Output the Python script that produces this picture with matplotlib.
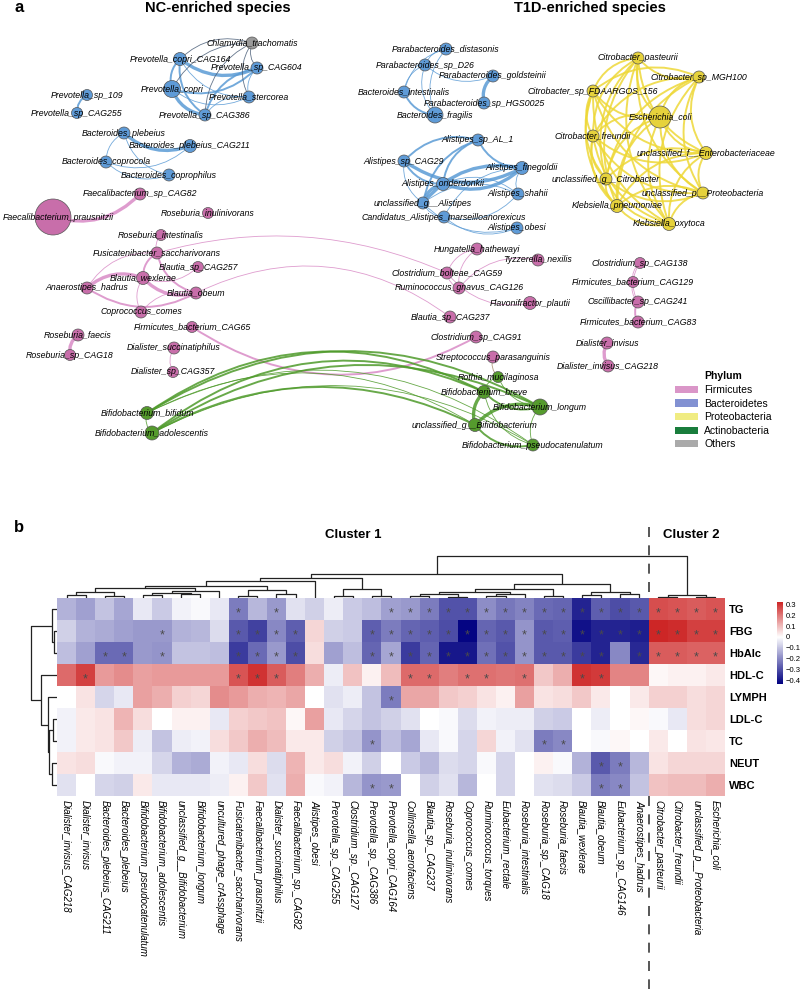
import itertools
import numpy as np
import matplotlib
matplotlib.use('Agg')
import matplotlib.pyplot as plt
import matplotlib.transforms as mtransforms
from matplotlib.path import Path
from matplotlib.patches import PathPatch, Patch
from matplotlib.colors import LinearSegmentedColormap, Normalize
from matplotlib.cm import ScalarMappable

plt.rcParams['font.family'] = ['Liberation Sans', 'DejaVu Sans']

# ---------------- panel a: network data ----------------
node_names = [
    'Chlamydia_trachomatis', 'Prevotella_copri_CAG164', 'Prevotella_sp_CAG604', 'Prevotella_copri',
    'Prevotella_stercorea', 'Prevotella_sp_CAG386', 'Prevotella_sp_109', 'Prevotella_sp_CAG255',
    'Bacteroides_plebeius', 'Bacteroides_plebeius_CAG211', 'Bacteroides_coprocola', 'Bacteroides_coprophilus',
    'Faecalibacterium_sp_CAG82', 'Faecalibacterium_prausnitzii', 'Roseburia_inulinivorans',
    'Roseburia_intestinalis', 'Fusicatenibacter_saccharivorans', 'Blautia_sp_CAG257', 'Blautia_wexlerae',
    'Anaerostipes_hadrus', 'Blautia_obeum', 'Coprococcus_comes', 'Firmicutes_bacterium_CAG65',
    'Roseburia_faecis', 'Roseburia_sp_CAG18', 'Dialister_succinatiphilus', 'Dialister_sp_CAG357',
    'Bifidobacterium_bifidum', 'Bifidobacterium_adolescentis',
    'Parabacteroides_distasonis', 'Parabacteroides_sp_D26', 'Parabacteroides_goldsteinii',
    'Bacteroides_intestinalis', 'Parabacteroides_sp_HGS0025', 'Bacteroides_fragilis',
    'Alistipes_sp_AL_1', 'Alistipes_sp_CAG29', 'Alistipes_finegoldii', 'Alistipes_onderdonkii',
    'Alistipes_shahii', 'unclassified_g__Alistipes', 'Candidatus_Alistipes_marseilloanorexicus',
    'Alistipes_obesi', 'Hungatella_hathewayi', 'Tyzzerella_nexilis', 'Clostridium_bolteae_CAG59',
    'Ruminococcus_gnavus_CAG126', 'Flavonifractor_plautii', 'Blautia_sp_CAG237', 'Clostridium_sp_CAG91',
    'Streptococcus_parasanguinis', 'Rothia_mucilaginosa', 'Bifidobacterium_breve', 'Bifidobacterium_longum',
    'unclassified_g__Bifidobacterium', 'Bifidobacterium_pseudocatenulatum',
    'Clostridium_sp_CAG138', 'Firmicutes_bacterium_CAG129', 'Oscillibacter_sp_CAG241',
    'Firmicutes_bacterium_CAG83', 'Dialister_invisus', 'Dialister_invisus_CAG218',
    'Citrobacter_pasteurii', 'Citrobacter_sp_MGH100', 'Citrobacter_sp_FDAARGOS_156', 'Escherichia_coli',
    'Citrobacter_freundii', 'unclassified_f__Enterobacteriaceae', 'unclassified_g__Citrobacter',
    'unclassified_p__Proteobacteria', 'Klebsiella_pneumoniae', 'Klebsiella_oxytoca',
]
node_x = [252, 180, 257, 172, 249, 205, 87, 77, 124, 190, 106, 169, 140, 53, 208, 161, 157, 198, 143, 87,
          196, 141, 192, 78, 70, 174, 173, 147, 152,
          446, 425, 493, 404, 484, 435, 478, 404, 522, 443, 518, 423, 444, 517, 477, 538, 447, 459, 530,
          450, 476, 493, 498, 484, 540, 475, 533, 640, 633, 638, 638, 607, 608,
          638, 699, 593, 660, 593, 706, 606, 703, 617, 669]
node_y = [43, 59, 68, 89, 97, 115, 95, 113, 133, 146, 162, 175, 194, 217, 213, 235, 253, 267, 278, 288,
          293, 312, 327, 335, 355, 348, 372, 413, 433,
          49, 65, 76, 92, 103, 115, 140, 161, 168, 184, 194, 203, 217, 228, 249, 260, 273, 288, 303,
          317, 337, 357, 377, 392, 407, 425, 445, 263, 282, 302, 322, 343, 366,
          58, 77, 91, 117, 136, 153, 179, 193, 206, 224]
node_phylum = (['O'] + ['B'] * 11 + ['F'] * 15 + ['A'] * 2 + ['B'] * 14 + ['F'] * 8 + ['A'] * 5
               + ['F'] * 6 + ['P'] * 10)
node_abund = [6, 6.5, 6, 8.5, 6, 6, 5.5, 5.5, 6, 6.5, 6, 6, 6, 18, 5.5, 5.5, 6, 5.5, 6.5, 6,
              6, 6, 5.5, 6, 5.5, 6, 5.5, 6.5, 7,
              6, 6, 6, 6, 6, 8, 6, 6, 6.5, 6.5, 6, 6, 6, 6, 6, 6, 6, 6, 6.5,
              6, 6, 6, 5.5, 6.5, 8, 6.5, 6, 5.5, 5.5, 6, 6, 6, 6,
              6, 6, 6, 11, 6, 6.5, 6, 6, 6.5, 6.5]

edges = [
    ('Prevotella_copri_CAG164', 'Prevotella_sp_CAG604', 3), ('Prevotella_copri_CAG164', 'Prevotella_copri', 2),
    ('Prevotella_copri', 'Prevotella_sp_CAG386', 3), ('Prevotella_copri', 'Prevotella_sp_CAG604', 2),
    ('Prevotella_copri', 'Prevotella_stercorea', 1), ('Prevotella_copri_CAG164', 'Prevotella_sp_CAG386', 2),
    ('Prevotella_sp_CAG604', 'Prevotella_sp_CAG386', 2), ('Prevotella_stercorea', 'Prevotella_sp_CAG386', 1),
    ('Prevotella_copri_CAG164', 'Prevotella_stercorea', 1), ('Prevotella_sp_CAG604', 'Prevotella_stercorea', 1),
    ('Chlamydia_trachomatis', 'Prevotella_copri_CAG164', 1), ('Chlamydia_trachomatis', 'Prevotella_sp_CAG604', 1),
    ('Chlamydia_trachomatis', 'Prevotella_copri', 1), ('Chlamydia_trachomatis', 'Prevotella_stercorea', 1),
    ('Chlamydia_trachomatis', 'Prevotella_sp_CAG386', 1),
    ('Prevotella_sp_109', 'Prevotella_sp_CAG255', 2),
    ('Bacteroides_plebeius', 'Bacteroides_plebeius_CAG211', 3), ('Bacteroides_plebeius', 'Bacteroides_coprocola', 1),
    ('Bacteroides_plebeius', 'Bacteroides_coprophilus', 1), ('Bacteroides_coprocola', 'Bacteroides_coprophilus', 1),
    ('Bacteroides_coprocola', 'Bacteroides_plebeius_CAG211', 1),
    ('Faecalibacterium_prausnitzii', 'Faecalibacterium_sp_CAG82', 3),
    ('Roseburia_intestinalis', 'Fusicatenibacter_saccharivorans', 1),
    ('Fusicatenibacter_saccharivorans', 'Blautia_wexlerae', 2), ('Fusicatenibacter_saccharivorans', 'Blautia_obeum', 2),
    ('Fusicatenibacter_saccharivorans', 'Anaerostipes_hadrus', 1), ('Blautia_wexlerae', 'Anaerostipes_hadrus', 3),
    ('Blautia_wexlerae', 'Blautia_obeum', 3), ('Anaerostipes_hadrus', 'Blautia_obeum', 2),
    ('Blautia_wexlerae', 'Blautia_sp_CAG257', 1), ('Blautia_wexlerae', 'Coprococcus_comes', 1),
    ('Blautia_obeum', 'Coprococcus_comes', 1),
    ('Fusicatenibacter_saccharivorans', 'Clostridium_bolteae_CAG59', 1), ('Blautia_obeum', 'Blautia_sp_CAG237', 1),
    ('Firmicutes_bacterium_CAG65', 'Clostridium_sp_CAG91', 2),
    ('Roseburia_faecis', 'Roseburia_sp_CAG18', 3), ('Dialister_succinatiphilus', 'Dialister_sp_CAG357', 1),
    ('Hungatella_hathewayi', 'Clostridium_bolteae_CAG59', 1), ('Clostridium_bolteae_CAG59', 'Ruminococcus_gnavus_CAG126', 1),
    ('Hungatella_hathewayi', 'Ruminococcus_gnavus_CAG126', 1), ('Tyzzerella_nexilis', 'Ruminococcus_gnavus_CAG126', 1),
    ('Clostridium_bolteae_CAG59', 'Flavonifractor_plautii', 1),
    ('Clostridium_sp_CAG138', 'Firmicutes_bacterium_CAG129', 1), ('Firmicutes_bacterium_CAG129', 'Oscillibacter_sp_CAG241', 1),
    ('Clostridium_sp_CAG138', 'Oscillibacter_sp_CAG241', 1), ('Oscillibacter_sp_CAG241', 'Firmicutes_bacterium_CAG83', 2),
    ('Dialister_invisus', 'Dialister_invisus_CAG218', 3),
    ('Streptococcus_parasanguinis', 'Rothia_mucilaginosa', 1),
    ('Bifidobacterium_bifidum', 'Bifidobacterium_adolescentis', 1),
    ('Bifidobacterium_bifidum', 'Bifidobacterium_breve', 2), ('Bifidobacterium_bifidum', 'Bifidobacterium_longum', 2),
    ('Bifidobacterium_bifidum', 'unclassified_g__Bifidobacterium', 1),
    ('Bifidobacterium_bifidum', 'Bifidobacterium_pseudocatenulatum', 1),
    ('Bifidobacterium_adolescentis', 'Bifidobacterium_breve', 2), ('Bifidobacterium_adolescentis', 'Bifidobacterium_longum', 2),
    ('Bifidobacterium_adolescentis', 'unclassified_g__Bifidobacterium', 2),
    ('Bifidobacterium_adolescentis', 'Bifidobacterium_pseudocatenulatum', 1),
    ('Bifidobacterium_breve', 'unclassified_g__Bifidobacterium', 3), ('Bifidobacterium_breve', 'Bifidobacterium_longum', 2),
    ('Bifidobacterium_breve', 'Bifidobacterium_pseudocatenulatum', 1),
    ('Bifidobacterium_longum', 'unclassified_g__Bifidobacterium', 3),
    ('Bifidobacterium_longum', 'Bifidobacterium_pseudocatenulatum', 1),
    ('unclassified_g__Bifidobacterium', 'Bifidobacterium_pseudocatenulatum', 2),
    ('Rothia_mucilaginosa', 'Bifidobacterium_longum', 1), ('Rothia_mucilaginosa', 'Bifidobacterium_breve', 1),
    ('Parabacteroides_distasonis', 'Parabacteroides_sp_D26', 1), ('Parabacteroides_distasonis', 'Bacteroides_intestinalis', 1),
    ('Parabacteroides_distasonis', 'Bacteroides_fragilis', 1), ('Parabacteroides_sp_D26', 'Bacteroides_intestinalis', 1),
    ('Parabacteroides_sp_D26', 'Bacteroides_fragilis', 1), ('Bacteroides_intestinalis', 'Bacteroides_fragilis', 2),
    ('Parabacteroides_goldsteinii', 'Parabacteroides_sp_HGS0025', 3), ('Parabacteroides_sp_D26', 'Parabacteroides_goldsteinii', 1),
    ('Alistipes_sp_AL_1', 'Alistipes_sp_CAG29', 2), ('Alistipes_sp_AL_1', 'Alistipes_finegoldii', 2),
    ('Alistipes_sp_AL_1', 'Alistipes_onderdonkii', 2), ('Alistipes_sp_AL_1', 'unclassified_g__Alistipes', 2),
    ('Alistipes_sp_CAG29', 'Alistipes_finegoldii', 3), ('Alistipes_sp_CAG29', 'Alistipes_onderdonkii', 2),
    ('Alistipes_sp_CAG29', 'unclassified_g__Alistipes', 1), ('Alistipes_onderdonkii', 'Alistipes_finegoldii', 3),
    ('Alistipes_onderdonkii', 'unclassified_g__Alistipes', 3), ('Alistipes_finegoldii', 'unclassified_g__Alistipes', 3),
    ('Alistipes_finegoldii', 'Alistipes_shahii', 1), ('Alistipes_shahii', 'unclassified_g__Alistipes', 1),
    ('Alistipes_shahii', 'Alistipes_onderdonkii', 1),
    ('unclassified_g__Alistipes', 'Candidatus_Alistipes_marseilloanorexicus', 1),
    ('Candidatus_Alistipes_marseilloanorexicus', 'Alistipes_obesi', 1),
    ('Candidatus_Alistipes_marseilloanorexicus', 'Alistipes_shahii', 1),
    ('Alistipes_finegoldii', 'Candidatus_Alistipes_marseilloanorexicus', 1), ('unclassified_g__Alistipes', 'Alistipes_obesi', 1),
]
proteo = [n for n, p in zip(node_names, node_phylum) if p == 'P']
edges += [(a, b, 2) for a, b in itertools.combinations(proteo, 2)]

edge_bend = {
    ('Fusicatenibacter_saccharivorans', 'Clostridium_bolteae_CAG59'): -0.18,
    ('Blautia_obeum', 'Blautia_sp_CAG237'): -0.3,
    ('Firmicutes_bacterium_CAG65', 'Clostridium_sp_CAG91'): 0.3,
    ('Bifidobacterium_bifidum', 'Bifidobacterium_breve'): -0.3,
    ('Bifidobacterium_bifidum', 'Bifidobacterium_longum'): -0.3,
    ('Bifidobacterium_bifidum', 'unclassified_g__Bifidobacterium'): -0.28,
    ('Bifidobacterium_bifidum', 'Bifidobacterium_pseudocatenulatum'): -0.3,
    ('Bifidobacterium_adolescentis', 'Bifidobacterium_breve'): -0.3,
    ('Bifidobacterium_adolescentis', 'Bifidobacterium_longum'): -0.28,
    ('Bifidobacterium_adolescentis', 'unclassified_g__Bifidobacterium'): -0.26,
    ('Bifidobacterium_adolescentis', 'Bifidobacterium_pseudocatenulatum'): -0.28,
}
# labels that would run off the left edge are nudged right
label_shift = {'Faecalibacterium_prausnitzii': 5}

phylum_node_col = {'F': '#C86EAA', 'B': '#5F9BD7', 'P': '#E6D23C', 'A': '#559B2D', 'O': '#9A9A9A'}
phylum_edge_col = {'F': '#D98BC6', 'B': '#5B9BD5', 'P': '#EED838', 'A': '#4E9A2A', 'O': '#4A5E78'}
edge_lw = {1: 0.6, 2: 1.4, 3: 2.4}

legend_names = ['Firmicutes', 'Bacteroidetes', 'Proteobacteria', 'Actinobacteria', 'Others']
legend_cols = ['#DA96C8', '#8291D2', '#F0EC82', '#197D3C', '#AAAAAA']

# ---------------- panel b: correlation heatmap data ----------------
col_labels = [
    'Dialister_invisus_CAG218', 'Dialister_invisus', 'Bacteroides_plebeius_CAG211', 'Bacteroides_plebeius',
    'Bifidobacterium_pseudocatenulatum', 'Bifidobacterium_adolescentis', 'unclassified_g__Bifidobacterium',
    'Bifidobacterium_longum', 'uncultured_phage_crAssphage', 'Fusicatenibacter_saccharivorans',
    'Faecalibacterium_prausnitzii', 'Dialister_succinatiphilus', 'Faecalibacterium_sp._CAG82', 'Alistipes_obesi',
    'Prevotella_sp._CAG255', 'Clostridium_sp._CAG127', 'Prevotella_sp._CAG386', 'Prevotella_copri_CAG164',
    'Collinsella_aerofaciens', 'Blautia_sp._CAG237', 'Roseburia_inulinivorans', 'Coprococcus_comes',
    'Ruminococcus_torques', 'Eubacterium_rectale', 'Roseburia_intestinalis', 'Roseburia_sp._CAG18',
    'Roseburia_faecis', 'Blautia_wexlerae', 'Blautia_obeum', 'Eubacterium_sp._CAG146', 'Anaerostipes_hadrus',
    'Citrobacter_pasteurii', 'Citrobacter_freundii', 'unclassified_p__Proteobacteria', 'Escherichia_coli',
]
row_labels = ['TG', 'FBG', 'HbAlc', 'HDL-C', 'LYMPH', 'LDL-C', 'TC', 'NEUT', 'WBC']

r_TG = [-0.13, -0.16, -0.10, -0.15, -0.04, -0.09, -0.02, -0.01, -0.04, -0.22, -0.12, -0.17, -0.05, -0.08, -0.03, -0.09,
        -0.11, -0.16, -0.17, -0.22, -0.29, -0.29, -0.19, -0.23, -0.21, -0.25, -0.26, -0.37, -0.27, -0.30, -0.28,
        0.26, 0.25, 0.24, 0.25]
r_FBG = [-0.08, -0.13, -0.14, -0.16, -0.17, -0.17, -0.13, -0.12, -0.06, -0.28, -0.32, -0.20, -0.27, 0.06, -0.08, -0.09,
         -0.27, -0.22, -0.26, -0.27, -0.30, -0.42, -0.26, -0.28, -0.18, -0.28, -0.27, -0.40, -0.37, -0.37, -0.38,
         0.32, 0.31, 0.28, 0.28]
r_HbA = [-0.11, -0.16, -0.25, -0.25, -0.17, -0.18, -0.10, -0.10, -0.11, -0.33, -0.25, -0.17, -0.30, 0.05, -0.16, -0.11,
         -0.26, -0.15, -0.33, -0.26, -0.39, -0.39, -0.24, -0.29, -0.18, -0.28, -0.28, -0.33, -0.37, -0.20, -0.36,
         0.24, 0.24, 0.23, 0.23]
r_HDL = [0.22, 0.28, 0.15, 0.17, 0.14, 0.15, 0.15, 0.15, 0.15, 0.25, 0.30, 0.24, 0.19, 0.12, -0.03, 0.09,
         0.02, 0.10, 0.22, 0.22, 0.19, 0.21, 0.21, 0.20, 0.21, 0.08, 0.12, 0.30, 0.29, 0.18, 0.18,
         0.01, 0.02, 0.02, 0.03]
r_LYM = [0.00, 0.04, -0.07, -0.04, 0.14, 0.12, 0.07, 0.06, 0.17, 0.15, 0.12, 0.11, 0.13, 0.00, -0.05, -0.03,
         -0.10, -0.22, 0.13, 0.13, 0.08, 0.07, 0.04, 0.02, 0.14, 0.04, 0.05, 0.08, 0.03, 0.00, 0.03,
         0.07, 0.07, 0.05, 0.06]
r_LDL = [-0.02, 0.03, 0.04, 0.11, 0.05, 0.00, 0.02, 0.02, -0.04, 0.07, 0.08, 0.09, 0.01, 0.14, -0.04, -0.07,
         -0.10, -0.08, -0.05, 0.00, -0.01, -0.06, -0.02, -0.03, -0.03, -0.08, -0.09, 0.00, -0.03, 0.00, 0.01,
         -0.01, -0.04, 0.05, 0.06]
r_TC = [-0.02, 0.03, 0.04, 0.08, -0.03, -0.10, -0.03, -0.02, 0.05, 0.08, 0.12, 0.10, 0.03, 0.03, -0.08, -0.10,
        -0.18, -0.11, -0.15, -0.04, -0.01, -0.07, 0.06, -0.02, -0.05, -0.22, -0.20, 0.00, -0.01, 0.01, 0.00,
        0.03, 0.00, 0.04, 0.035]
r_NEU = [0.04, 0.05, -0.01, -0.02, -0.02, -0.07, -0.13, -0.14, -0.02, -0.04, 0.05, -0.06, 0.11, 0.03, 0.05, -0.02,
         -0.08, 0.00, -0.09, -0.12, -0.06, -0.07, -0.01, -0.07, 0.00, 0.02, -0.01, -0.13, -0.28, -0.22, -0.12,
         0.04, 0.06, 0.06, 0.06]
r_WBC = [-0.05, 0.00, -0.07, -0.08, 0.03, -0.04, -0.04, -0.04, -0.03, 0.02, 0.08, -0.05, 0.12, -0.01, -0.02, -0.12,
         -0.18, -0.17, 0.00, -0.08, -0.05, -0.12, 0.00, -0.07, 0.00, -0.05, -0.06, -0.09, -0.22, -0.20, -0.10,
         0.09, 0.10, 0.10, 0.12]

# significant cells (column index per row, 0-based)
sig_cols = [
    [9, 11, 17, 18, 19, 20, 21, 22, 23, 24, 25, 26, 27, 28, 29, 30, 31, 32, 33, 34],
    [5, 9, 10, 11, 12, 16, 17, 18, 19, 20, 21, 22, 23, 24, 25, 26, 27, 28, 29, 30, 31, 32, 33, 34],
    [2, 3, 5, 9, 10, 11, 12, 16, 17, 18, 19, 20, 21, 22, 23, 24, 25, 26, 27, 28, 30, 31, 32, 33, 34],
    [1, 9, 10, 11, 18, 19, 21, 22, 24, 27, 28],
    [17],
    [],
    [16, 25, 26],
    [28, 29],
    [16, 17, 28, 29],
]

# dendrograms: (left id, right id, merge height); ids >= n are earlier merges
col_merges = [
    (0, 1, 3), (2, 3, 2), (35, 36, 6), (4, 5, 3), (6, 7, 4), (38, 39, 5), (40, 8, 7), (37, 41, 10),
    (9, 10, 2), (11, 12, 4), (43, 44, 8), (42, 45, 12), (46, 13, 17), (14, 15, 2), (16, 17, 2),
    (48, 49, 9), (47, 50, 20), (18, 19, 2), (20, 21, 1.5), (52, 53, 4), (22, 23, 2), (55, 24, 4),
    (54, 56, 6), (25, 26, 2), (57, 58, 9), (27, 28, 3), (29, 30, 4), (60, 61, 6), (59, 62, 14),
    (51, 63, 24), (31, 32, 1), (33, 34, 1.5), (65, 66, 3), (64, 67, 42),
]
row_merges = [(1, 2, 3), (0, 9, 5), (5, 6, 4), (7, 8, 5), (11, 12, 8), (4, 13, 9), (3, 14, 16), (10, 15, 26)]

W, H = 800, 989
fig = plt.figure(figsize=(W / 100, H / 100), dpi=100)


def frac(x0, y0, x1, y1):
    return [x0 / W, 1 - y1 / H, (x1 - x0) / W, (y1 - y0) / H]


# ---------------- draw network ----------------
ax = fig.add_axes(frac(0, 0, 800, 495))
ax.set_xlim(0, 800)
ax.set_ylim(495, 0)
ax.axis('off')
ax.patch.set_alpha(0)

idx = {n: i for i, n in enumerate(node_names)}
for a, b, w in edges:
    pa, pb = node_phylum[idx[a]], node_phylum[idx[b]]
    if 'O' in (pa, pb):
        col = phylum_edge_col['O']
    elif pa != pb:
        col = '#A58A6A'
    else:
        col = phylum_edge_col[pa]
    p0 = np.array([node_x[idx[a]], node_y[idx[a]]], float)
    p2 = np.array([node_x[idx[b]], node_y[idx[b]]], float)
    d = p2 - p0
    c = edge_bend.get((a, b), 0.3)
    p1 = (p0 + p2) / 2 + c * np.array([-d[1], d[0]])
    path = Path([p0, p1, p2], [Path.MOVETO, Path.CURVE3, Path.CURVE3])
    ax.add_patch(PathPatch(path, fc='none', ec=col, lw=edge_lw[w], alpha=0.85, zorder=1))

sizes = [(1.44 * r) ** 2 for r in node_abund]
ax.scatter(node_x, node_y, s=sizes, c=[phylum_node_col[p] for p in node_phylum],
           edgecolors='#555555', linewidths=0.5, zorder=2)
for n, x, y in zip(node_names, node_x, node_y):
    ax.text(x + label_shift.get(n, 0), y, n, style='italic', fontsize=6.3,
            ha='center', va='center', zorder=3)

handles = [Patch(facecolor=c, edgecolor='none') for c in legend_cols]
leg = ax.legend(handles, legend_names, title='Phylum', loc='upper left',
                bbox_to_anchor=(670, 366), bbox_transform=ax.transData, frameon=False,
                fontsize=7.5, title_fontsize=7.5, handlelength=2.2, handleheight=0.7,
                labelspacing=0.35, handletextpad=0.6, borderpad=0)
leg.get_title().set_fontweight('bold')

fig.text(14 / W, 1 - 8 / H, 'a', fontsize=12, fontweight='bold', va='center')
fig.text(218 / W, 1 - 8 / H, 'NC-enriched species', fontsize=10.5, fontweight='bold', ha='center', va='center')
fig.text(590 / W, 1 - 8 / H, 'T1D-enriched species', fontsize=10.5, fontweight='bold', ha='center', va='center')

# ---------------- draw heatmap ----------------
vals = np.array([r_TG, r_FBG, r_HbA, r_HDL, r_LYM, r_LDL, r_TC, r_NEU, r_WBC])
vmin, vmax = -0.43, 0.32
cmap = LinearSegmentedColormap.from_list(
    'navy_white_firebrick', [(0, '#000080'), (-vmin / (vmax - vmin), '#FFFFFF'), (1, '#CD2626')])
norm = Normalize(vmin, vmax)

axh = fig.add_axes(frac(57, 598, 725, 796))
axh.pcolormesh(vals, cmap=cmap, norm=norm)
axh.set_xlim(0, len(col_labels))
axh.set_ylim(len(row_labels), 0)
for s in axh.spines.values():
    s.set_visible(False)
axh.set_xticks(np.arange(len(col_labels)) + 0.5)
axh.set_xticklabels(col_labels, rotation=270, fontstyle='italic', fontsize=7)
axh.tick_params(axis='x', length=0, pad=3)
axh.yaxis.tick_right()
axh.set_yticks(np.arange(len(row_labels)) + 0.5)
axh.set_yticklabels(row_labels, fontweight='bold', fontsize=8)
axh.tick_params(axis='y', length=0, pad=3)
for r, cols in enumerate(sig_cols):
    for c in cols:
        axh.text(c + 0.5, r + 0.7, '*', ha='center', va='center', fontsize=9, color='#4a4a4a')

# cluster separator
tr = mtransforms.blended_transform_factory(axh.transData, fig.transFigure)
for y0, y1 in [(527, 598), (796, 989)]:
    axh.plot([31, 31], [1 - y0 / H, 1 - y1 / H], transform=tr, color='#3a3a3a', lw=1.2,
             dashes=(6, 5), clip_on=False)


def draw_dendro(a, merges, n, top):
    pos = {i: i + 0.5 for i in range(n)}
    hgt = {i: 0 for i in range(n)}
    for k, (l, r, h) in enumerate(merges):
        xs = [pos[l], pos[l], pos[r], pos[r]]
        ys = [hgt[l], h, h, hgt[r]]
        if top:
            a.plot(xs, ys, color='#222222', lw=0.9, solid_capstyle='butt')
        else:
            a.plot(ys, xs, color='#222222', lw=0.9, solid_capstyle='butt')
        pos[n + k] = (pos[l] + pos[r]) / 2
        hgt[n + k] = h


axc = fig.add_axes(frac(57, 553, 725, 598))
draw_dendro(axc, col_merges, len(col_labels), True)
axc.set_xlim(0, len(col_labels))
axc.set_ylim(0, 45)
axc.axis('off')

axr = fig.add_axes(frac(25, 598, 57, 796))
draw_dendro(axr, row_merges, len(row_labels), False)
axr.set_ylim(len(row_labels), 0)
axr.set_xlim(32, 0)
axr.axis('off')

cax = fig.add_axes(frac(777, 602, 783, 684))
cb = fig.colorbar(ScalarMappable(norm=norm, cmap=cmap), cax=cax)
cb.outline.set_visible(False)
ticks = [0.3, 0.2, 0.1, 0, -0.1, -0.2, -0.3, -0.4]
cb.set_ticks(ticks)
cb.set_ticklabels(['0.3', '0.2', '0.1', '0', '\u22120.1', '\u22120.2', '\u22120.3', '\u22120.4'])
cax.tick_params(length=0, labelsize=5.5, pad=2)

fig.text(14 / W, 1 - 527 / H, 'b', fontsize=12, fontweight='bold', va='center')
fig.text(353 / W, 1 - 535 / H, 'Cluster 1', fontsize=9.5, fontweight='bold', ha='center', va='center')
fig.text(691 / W, 1 - 535 / H, 'Cluster 2', fontsize=9.5, fontweight='bold', ha='center', va='center')

fig.savefig('out.png', dpi=100)
